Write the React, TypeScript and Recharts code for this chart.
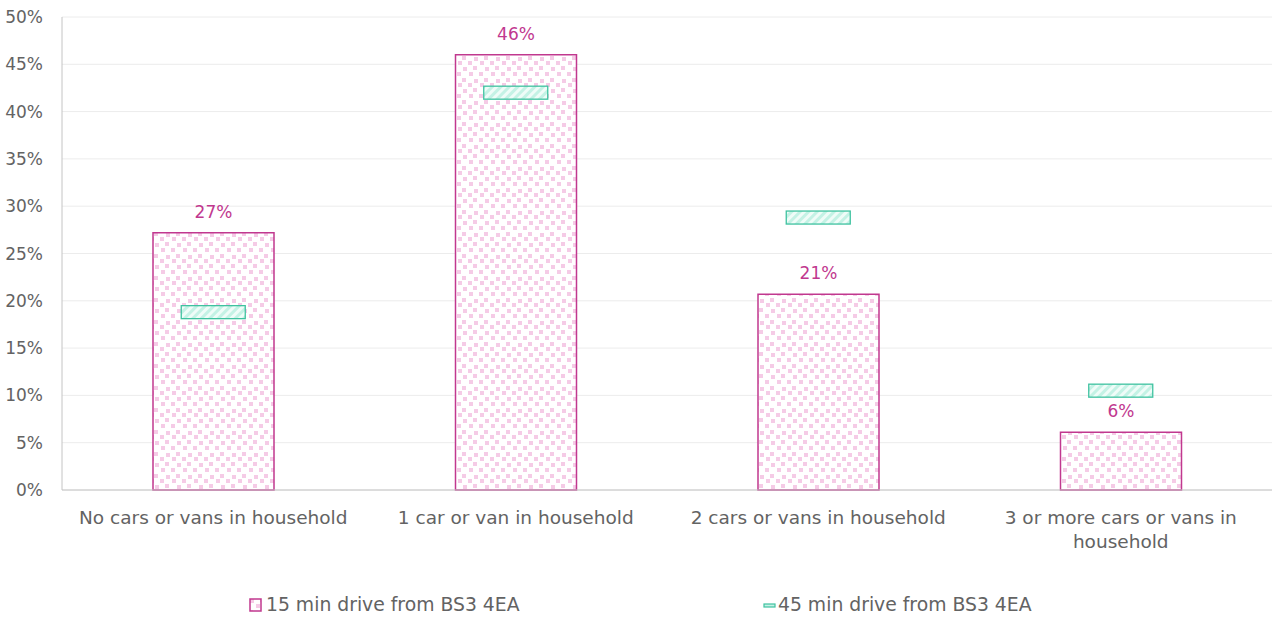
import {
  Bar,
  CartesianGrid,
  ComposedChart,
  LabelList,
  Legend,
  Line,
  Text,
  XAxis,
  YAxis,
} from "recharts";

const CATEGORIES = [
  "No cars or vans in household",
  "1 car or van in household",
  "2 cars or vans in household",
  "3 or more cars or vans in household",
];
const DRIVE_15 = [27.2, 46.0, 20.7, 6.1];
const DRIVE_45 = [18.8, 42.0, 28.8, 10.5];
const Y_TICKS = [0, 5, 10, 15, 20, 25, 30, 35, 40, 45, 50];
const SERIES_15 = "15 min drive from BS3 4EA";
const SERIES_45 = "45 min drive from BS3 4EA";

const PINK = "#c1388f";
const PINK_DOT = "#f5cbe6";
const TEAL = "#3fc2a0";
const TEAL_HATCH = "#c4f2e5";
const TEXT = "#636363";
const FONT = "'DejaVu Sans', sans-serif";

const data = CATEGORIES.map((name, i) => ({
  name,
  d15: DRIVE_15[i],
  d45: DRIVE_45[i],
}));

// Excel "dash" marker: a flat hatched rectangle sitting on the value
function DashMarker(props: any) {
  const { cx, cy, index } = props;
  if (cx == null || cy == null) return null;
  return (
    <rect
      key={`m-${index}`}
      x={cx - 32}
      y={cy - 6.5}
      width={64}
      height={13}
      fill="url(#hatch-teal)"
      stroke={TEAL}
      strokeWidth={1.3}
    />
  );
}

function CategoryTick(props: any) {
  const { x, y, payload } = props;
  return (
    <Text
      x={x}
      y={y + 13}
      width={285}
      textAnchor="middle"
      verticalAnchor="start"
      style={{ fontSize: 18.5, fontFamily: FONT }}
      fontSize={18.5}
      fontFamily={FONT}
      fill={TEXT}
      lineHeight={24}
    >
      {payload.value}
    </Text>
  );
}

function LegendRow() {
  return (
    <div
      style={{
        position: "relative",
        height: 24,
        fontFamily: FONT,
        fontSize: 18.8,
        color: TEXT,
      }}
    >
      <div style={{ position: "absolute", left: 249, top: 3, display: "flex", alignItems: "center" }}>
        <svg width={14} height={14} style={{ marginRight: 3 }}>
          <rect x={1} y={1} width={11} height={12} fill="url(#dots-pink)" stroke={PINK} strokeWidth={1.5} />
        </svg>
        <span>{SERIES_15}</span>
      </div>
      <div style={{ position: "absolute", left: 763, top: 3, display: "flex", alignItems: "center" }}>
        <svg width={14} height={14} style={{ marginRight: 1 }}>
          <rect x={1} y={6} width={11} height={3} fill={TEAL_HATCH} stroke={TEAL} strokeWidth={1.2} />
        </svg>
        <span>{SERIES_45}</span>
      </div>
    </div>
  );
}

export default function App() {
  return (
    <div style={{ position: "absolute", left: 0, top: 0, background: "#fff" }}>
      <ComposedChart
        width={1273}
        height={617}
        data={data}
        margin={{ top: 17, right: 1, bottom: 2, left: 0 }}
        barCategoryGap="30%"
      >
        <defs>
          <pattern id="dots-pink" width={22} height={22} patternUnits="userSpaceOnUse">
            <rect width={22} height={22} fill="#fff" />
            <rect x={1} y={1} width={4} height={4} fill={PINK_DOT} />
            <rect x={11} y={0} width={4} height={4} fill={PINK_DOT} />
            <rect x={17} y={6} width={4} height={4} fill={PINK_DOT} />
            <rect x={7} y={6} width={4} height={4} fill={PINK_DOT} />
            <rect x={0} y={12} width={4} height={4} fill={PINK_DOT} />
            <rect x={12} y={13} width={4} height={4} fill={PINK_DOT} />
            <rect x={6} y={17} width={4} height={4} fill={PINK_DOT} />
            <rect x={18} y={17} width={4} height={4} fill={PINK_DOT} />
          </pattern>
          <pattern
            id="hatch-teal"
            width={6}
            height={6}
            patternUnits="userSpaceOnUse"
            patternTransform="rotate(45)"
          >
            <rect width={6} height={6} fill="#effcf8" />
            <rect width={3} height={6} fill={TEAL_HATCH} />
          </pattern>
        </defs>
        <CartesianGrid vertical={false} stroke="#ececec" />
        <XAxis
          dataKey="name"
          interval={0}
          tickLine={false}
          stroke="#c4c4c4"
          height={101}
          tick={<CategoryTick />}
        />
        <YAxis
          domain={[0, 50]}
          ticks={Y_TICKS}
          width={62}
          tickLine={false}
          tickSize={0}
          tickMargin={19}
          stroke="#c4c4c4"
          tickFormatter={(v: number) => `${v}%`}
          tick={{ fontSize: 17, fill: TEXT, fontFamily: FONT }}
        />
        <Legend verticalAlign="bottom" content={() => <LegendRow />} />
        <Bar
          dataKey="d15"
          name={SERIES_15}
          barSize={121}
          fill="url(#dots-pink)"
          stroke={PINK}
          strokeWidth={1.5}
          isAnimationActive={false}
        >
          <LabelList
            dataKey="d15"
            position="top"
            offset={15}
            formatter={(v: any) => `${Math.round(Number(v))}%`}
            fill={PINK}
            fontSize={17}
            fontFamily={FONT}
          />
        </Bar>
        <Line
          dataKey="d45"
          name={SERIES_45}
          stroke="none"
          dot={DashMarker}
          activeDot={false}
          isAnimationActive={false}
        />
      </ComposedChart>
    </div>
  );
}
